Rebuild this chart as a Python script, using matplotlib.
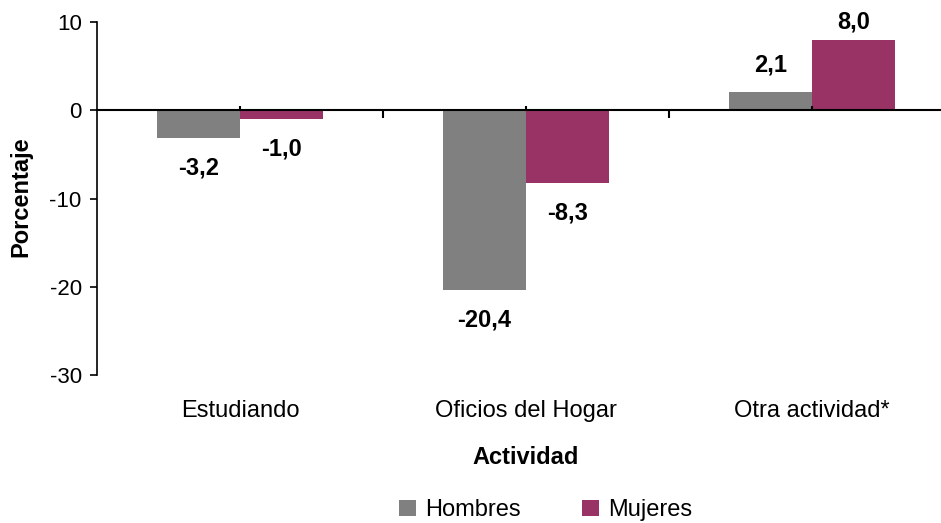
import numpy as np
import matplotlib
matplotlib.use('Agg')
import matplotlib.pyplot as plt

plt.rcParams['font.family'] = ['Liberation Sans', 'DejaVu Sans']

categories = ['Estudiando', 'Oficios del Hogar', 'Otra actividad*']
hombres = [-3.2, -20.4, 2.1]
mujeres = [-1.0, -8.3, 8.0]
series_names = ['Hombres', 'Mujeres']
colors = ['#808080', '#993366']
yticks = [10, 0, -10, -20, -30]


def fmt(v):
    return f'{v:.1f}'.replace('.', ',')


fig = plt.figure(figsize=(9.41, 5.23), dpi=100)
ax = fig.add_axes([97 / 941, 148 / 523, 858 / 941, 353 / 523])

x = np.arange(len(categories))
bar_w = 0.29
b1 = ax.bar(x - bar_w / 2, hombres, bar_w, color=colors[0], label=series_names[0])
b2 = ax.bar(x + bar_w / 2, mujeres, bar_w, color=colors[1], label=series_names[1])

ax.set_xlim(-0.5, 2.5)
ax.set_ylim(-30, 10)

# data labels, kept inside the chart near the top like Excel does
px_per_unit = 353 / 40
for bars, vals in ((b1, hombres), (b2, mujeres)):
    for rect, v in zip(bars, vals):
        if v >= 0:
            room = (10 - v) * px_per_unit  # pixels above the bar
            off = min(27, room) * 72 / 100
        else:
            off = -30 * 72 / 100
        ax.annotate(fmt(v), (rect.get_x() + rect.get_width() / 2, v),
                    xytext=(0, off), textcoords='offset points',
                    ha='center', va='center', fontsize=17, fontweight='bold',
                    annotation_clip=False)

ax.set_yticks(yticks)
ax.set_yticklabels([str(t) for t in yticks], fontsize=16)
ax.tick_params(axis='y', direction='out', length=5, width=1.2, pad=6)

# category axis sits at zero
for s in ('top', 'right'):
    ax.spines[s].set_visible(False)
ax.spines['bottom'].set_position(('data', 0))
ax.spines['bottom'].set_linewidth(1.5)
ax.spines['left'].set_linewidth(1.2)
ax.set_xticks([0.5, 1.5])
ax.set_xticklabels([])
ax.tick_params(axis='x', which='major', direction='out', length=6, width=1.5)
ax.set_xticks(x, minor=True)
ax.tick_params(axis='x', which='minor', direction='in', length=3, width=1.5)

for xi, name in zip(x, categories):
    ax.text(xi, -0.102, name, transform=ax.get_xaxis_transform(),
            ha='center', va='center', fontsize=17)

ax.text(0.5, -0.235, 'Actividad', transform=ax.transAxes,
        ha='center', va='center', fontsize=17, fontweight='bold')
fig.text(21 / 941, 1 - 197 / 523, 'Porcentaje', rotation=90,
         ha='center', va='center', fontsize=17, fontweight='bold')

fig.legend(loc='center', bbox_to_anchor=(546 / 941, 1 - 510 / 523),
           ncol=2, frameon=False, fontsize=17, handlelength=0.68,
           handleheight=0.68, handletextpad=0.42, columnspacing=2.6)

fig.savefig('out.png', dpi=100)
